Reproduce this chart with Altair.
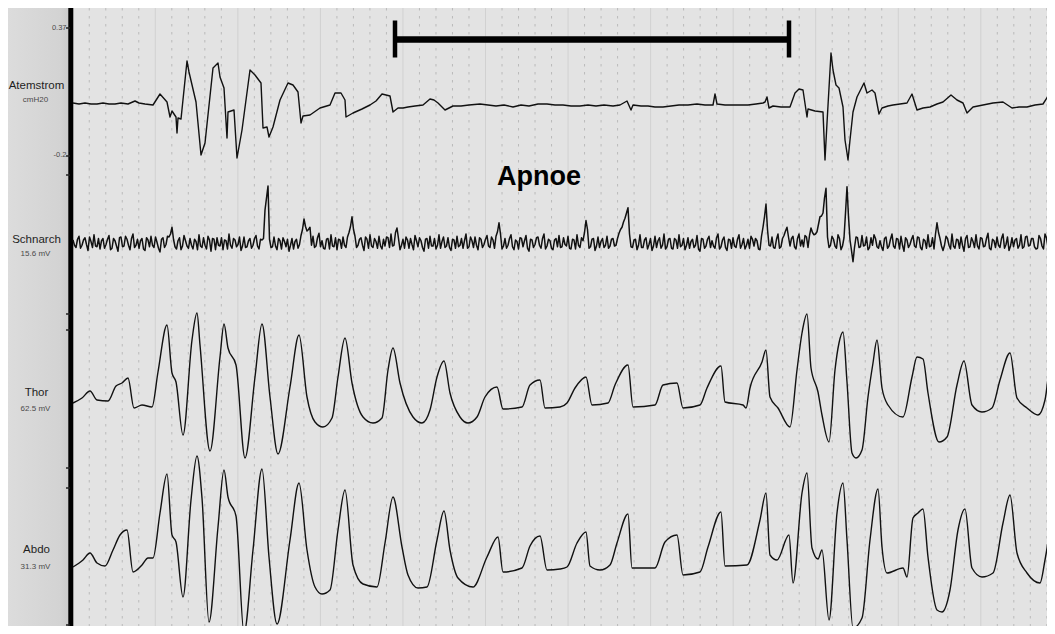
import altair as alt
import pandas as pd

# ---------------- data (time in samples, ~16.5 samples per grid second; amplitude in display units, up = positive)
atem_points = [
    (0, 0), (6, -1), (12, 0), (18, -1), (24, -1), (30, 0), (36, -1), (42, -1), (48, 0), (55, -1),
    (62, 2), (66, 0), (72, -1), (80, -2), (87, 9), (94, 1), (97, -14), (99, -8), (103, -14), (104, -30),
    (105, -15), (108, -16), (114, 42), (116, 31), (123, 1), (128, -52), (132, -40), (140, 35), (145, 40),
    (147, 26), (151, 15), (154, -35), (155, -9), (161, -7), (164, -55), (169, -27), (177, 33), (182, 28),
    (188, 20), (190, -25), (194, -24), (196, -34), (200, -24), (207, 3), (215, 20), (220, 18), (225, 11),
    (228, -20), (230, -13), (237, -12), (247, -5), (257, -2), (262, 10), (268, 10), (272, 3), (273, -14),
    (280, -10), (289, -6), (297, -2), (303, 2), (309, 9), (317, 7), (320, -9), (325, -5), (330, -5),
    (335, -4), (342, -3), (350, -2), (357, 4), (361, 3), (365, 0), (372, -7), (380, -3), (388, -3),
    (396, -2), (407, -1), (415, -2), (423, -3), (431, -2), (440, -4), (448, -2), (456, -3), (465, -1),
    (474, -1), (482, -2), (490, -2), (498, -3), (507, -3), (515, -2), (523, -3), (531, -2), (540, -3),
    (547, -2), (554, 2), (558, -7), (560, -2), (568, -3), (575, -3), (582, -4), (590, -4), (598, -3),
    (606, -2), (615, -2), (624, -1), (632, -2), (640, -2), (642, 9), (644, -1), (652, -2), (660, -2),
    (667, -2), (675, -2), (683, -1), (690, 0), (692, 1), (694, 6), (696, -5), (700, -3), (708, -4),
    (717, -4), (722, 10), (726, 14), (730, 13), (734, -14), (735, -6), (742, -8), (750, -9), (752, -57),
    (754, -20), (758, 50), (760, 33), (763, 18), (766, 15), (770, -4), (772, -37), (774, -50), (775, -57),
    (777, -37), (780, -9), (784, 6), (791, 20), (794, 10), (799, 13), (802, 10), (806, -11), (809, -5),
    (815, -3), (820, -2), (827, -1), (834, 0), (839, 9), (844, -7), (850, -5), (857, -4), (864, -1),
    (870, 1), (878, 8), (884, 3), (890, 0), (894, -10), (900, -4), (910, -2), (920, 0), (930, 1),
    (939, -5), (946, -4), (954, -4), (962, -2), (970, -1), (977, 10), (982, 5),
]

# snore channel: values every 3 samples (t = 3i) ...
schnarch_values = [
    4, -6, 9, -3, 7, -10, 2, 11, -5, -8, 6, -2, 10, -7, 3, -11, 8, -4, 5, -9,
    12, -3, -7, 6, -10, 4, 9, -6, 1, -12, 7, -2, 8, 21, -5, 3, -9, 10, -4, 6,
    -8, 2, 11, -6, -3, 9, -11, 5, 7, -4, -9, 3, 12, -7, 4, -2, -10, 8, -5, 6,
    -3, 10, -8, 4, 44, 76, -6, 8, -9, 3, 7, -5, -11, 6, 2, -7, 10, 32, 16, 21,
    9, -4, 13, 3, -8, 6, 11, -5, -9, 4, 8, -6, 14, 35, 9, -3, 7, -10, 5, 11,
    -6, 2, 9, -8, -4, 7, 12, -3, 20, -9, 5, 8, -7, -2, 10, -5, 3, -11, 6, 9,
    -4, -8, 11, 2, -6, 7, -10, 4, 9, -3, -7, 12, -5, 3, 8, -9, 5, -2, 10, -6,
    4, 9, 27, -8, 6, -3, 11, -9, 2, 7, -5, 10, -11, 4, -2, 8, -7, 12, -4, 3,
    -9, 6, 10, -5, -2, 9, -8, 4, 11, -6, 3, 30, -7, 5, -10, 8, 2, -6, 9, -4,
    6, -3, 13, 21, 33, 47, -5, 4, -9, 11, -6, 7, -2, -10, 9, 3, -7, 12, -5, 6,
    -8, 4, 11, -3, -9, 7, 2, -6, 10, -11, 5, -4, 9, 3, -7, 12, -5, 8, -10, 4,
    7, -6, 11, -2, -8, 5, 9, -4, 3, -9, 21, 52, -3, 8, -7, 12, -5, 10, 21, -4,
    9, -8, 12, 4, 10, -6, 20, 11, 15, 35, 40, 73, -6, 9, -4, 11, -9, 7, 75, 4,
    -25, 8, -6, 10, -3, -9, 7, 11, -5, 3, -10, 8, -4, 12, -7, 5, 9, -11, 4, -2,
    10, -6, 7, -9, 3, 11, -4, -8, 27, 6, -10, 9, -3, 12, -7, 4, 8, -11, 10, -5,
    2, 11, -8, 6, -4, 13, -9, 3, 8, -6, 12, -2, -10, 7, 4, -7, 11, -5, 9, -3,
    6, -8, 10, -4, 12, -6, 3, -2,
]
# ... and the samples half-way between them (t = 3i + 1.5)
schnarch_mid_values = [
    -3, 5, -7, 4, -2, 8, -6, -4, 6, 3, -7, 5, -9, 6, -4, 7, -5, 9, -3, 6,
    -6, 5, 3, -8, 7, -5, -3, 8, -7, 5, -6, 9, 12, 5, -8, 7, -4, 3, -7, -3,
    5, -9, -4, 7, -8, 4, 6, -9, -3, 7, 4, -8, -3, 6, -5, 8, -4, -6, 3, -7,
    6, -4, 5, 6, 60, 5, -5, -4, 6, -8, 2, 5, -3, -8, 5, -2, 18, 22, 18, -3,
    -6, 7, -5, -7, 5, -8, -4, 7, 5, -7, -3, 8, 22, 18, -6, 5, -3, 8, -7, -4,
    6, -7, -4, 5, 8, -6, -4, 14, 6, -3, -7, 4, 6, -9, 3, 7, -6, 5, -7, -4,
    6, -3, -7, 8, -4, -6, 5, -7, -5, 6, 3, -7, 8, -6, -3, 7, -6, 5, -4, 8,
    -7, 15, 12, -4, -7, 6, -5, 4, -8, 6, 3, -7, 5, -6, 7, -3, 6, -8, 5, -7,
    4, -5, -6, 7, -4, -7, 5, -8, -3, 7, 14, 18, -5, 6, -4, -6, 6, -3, -7, 5,
    -4, 6, 18, 28, 40, 12, -6, 5, -3, -6, 4, -8, 6, -4, -6, 7, -3, -8, 5, -7,
    6, -7, -5, 6, -3, -7, 5, -3, -8, 6, -7, 5, -6, -4, 7, -8, 4, -6, 5, -7,
    -4, 5, -7, 6, -3, -7, 5, 6, -8, 9, 35, 18, -4, -6, 5, -7, 6, 16, 8, 6,
    -5, 6, -4, -5, 8, 10, 14, 12, 25, 36, 60, 8, -3, 5, -7, 6, -4, 40, 35, -10,
    -6, 7, -5, -4, 8, -6, -3, 6, -7, -5, 6, -7, 5, -4, 6, -8, -3, 7, -6, 5,
    -4, 8, -6, 5, -7, -5, 7, 12, 14, -4, -3, 6, -8, -4, 5, -7, -3, 6, -6, 7,
    -6, -4, 7, -5, 6, -7, 5, -6, -3, 6, -7, 8, -4, -5, 6, -3, -7, 8, -4, 6,
    -5, -7, 6, -8, 7, 4, -5,
]
schnarch_step = 3
schnarch_gain = 0.75      # display pixels per unit

thor_points = [
    (0, -3), (9, 2), (17, 9), (24, 0), (35, -1), (43, 14), (49, 17), (55, 22), (61, -8), (69, -5),
    (79, -7), (85, 28), (94, 75), (99, 27), (103, 18), (110, -35), (119, 60), (124, 87), (127, 55),
    (137, -51), (147, 43), (151, 76), (155, 52), (163, 35), (172, -58), (182, 23), (189, 76), (197, 3),
    (205, -54), (217, 13), (226, 65), (234, 3), (242, -22), (250, -27), (259, -18), (265, 23), (272, 62),
    (279, 17), (290, -17), (300, -23), (309, -18), (315, 30), (320, 52), (327, 17), (340, -17), (349, -23),
    (357, -10), (364, 23), (371, 39), (377, 7), (387, -17), (395, -23), (404, -17), (412, 3), (424, 13),
    (430, -9), (449, -7), (457, 15), (467, 20), (472, -8), (487, -7), (494, -3), (502, 12), (513, 23),
    (519, -5), (535, -3), (542, 15), (555, 35), (560, -7), (582, -5), (590, 15), (604, 17), (610, -8),
    (627, -5), (634, 12), (648, 34), (652, -2), (670, -5), (673, -8), (677, 12), (689, 38), (693, 50),
    (697, 3), (705, -8), (717, -27), (724, 30), (729, 67), (734, 86), (738, 32), (745, 8), (749, -15),
    (756, -42), (762, 30), (766, 57), (770, 68), (774, 18), (779, -53), (783, -58), (789, -50), (795, 3),
    (800, 37), (804, 60), (809, 12), (815, -5), (830, -17), (839, 23), (844, 43), (850, 41), (855, 7),
    (866, -42), (874, -37), (884, 15), (891, 39), (899, -5), (909, -12), (919, -8), (927, 20), (937, 47),
    (944, 2), (954, -8), (965, -15), (972, 0), (977, 37), (982, 55),
]

abdo_points = [
    (0, -7), (10, 0), (17, 7), (24, -3), (32, -6), (40, 10), (47, 25), (54, 30), (60, -12), (69, -5),
    (75, 2), (80, 2), (87, 47), (94, 86), (99, 25), (103, 18), (110, -37), (118, 60), (124, 104),
    (129, 62), (136, -62), (145, 33), (151, 90), (155, 63), (163, 44), (171, -73), (180, 10), (189, 91),
    (196, 3), (204, -64), (217, 20), (226, 77), (234, 10), (242, -27), (249, -34), (257, -30), (265, 30),
    (272, 70), (280, -5), (290, -24), (304, -27), (312, 17), (320, 63), (329, 13), (335, -15), (345, -28),
    (354, -27), (364, 20), (371, 49), (377, 10), (385, -18), (400, -27), (414, 3), (425, 23), (430, -12),
    (449, -8), (457, 14), (467, 24), (474, -10), (487, -9), (494, -7), (504, 17), (513, 28), (517, -6),
    (527, -10), (537, -5), (544, 17), (555, 46), (559, -8), (582, -8), (592, 18), (604, 25), (610, -15),
    (627, -12), (635, 13), (648, 48), (652, -6), (674, -5), (687, 40), (693, 67), (697, 5), (704, 0),
    (716, 25), (720, -23), (729, 67), (734, 87), (739, 12), (745, 1), (749, 10), (756, -60), (764, 47),
    (770, 77), (774, 20), (780, -68), (789, -58), (797, 20), (805, 71), (809, 13), (814, -13), (830, -8),
    (834, -17), (840, 42), (845, 47), (850, 51), (855, 3), (864, -50), (869, -52), (877, -30), (885, 30),
    (892, 51), (899, -8), (909, -17), (920, -13), (930, 37), (937, 65), (944, 7), (954, -13), (967, -23),
    (972, 0), (982, 68),
]

channel_names = ["Atemstrom", "Schnarch", "Thor", "Abdo"]
channel_units = ["cmH20", "15.6 mV", "62.5 mV", "31.3 mV"]
atem_range_labels = ["0.37", "-0.2"]
apnoe_start = 322
apnoe_end = 716
apnoe_label = "Apnoe"

# ---------------- layout / style
W, H = 1039, 618
XS = alt.Scale(domain=[-65, 974], nice=False, zero=False)
baselines = [95, 235, 392, 552]          # chart-pixel y of each channel's zero line
name_y = [78, 232, 385, 542]
unit_y = [92, 246, 401, 559]
range_label_y = [20, 147]
tick_y = [20, 148, 167, 306, 322, 460, 480, 617]
FONT = "Liberation Sans, Arial, sans-serif"
one = pd.DataFrame({"k": [0]})

grid_step = 16.51
grid_k = list(range(1, 60))
grid_df = pd.DataFrame({"gx": [-0.25 + grid_step * k for k in grid_k],
                        "major": [k % 5 == 0 for k in grid_k]})

panel = alt.Chart(one).mark_rect(
    color=alt.Gradient(gradient="linear",
                       stops=[alt.GradientStop(color="#dcdcdc", offset=0),
                              alt.GradientStop(color="#d3d3d3", offset=0.85),
                              alt.GradientStop(color="#cacaca", offset=1)],
                       x1=0, x2=1, y1=0, y2=0)
).encode(x=alt.value(0), x2=alt.value(61), y=alt.value(0), y2=alt.value(H))

grid_minor = alt.Chart(grid_df).transform_filter("!datum.major").mark_rule(
    color="#bababa", strokeWidth=1, strokeDash=[2.5, 5.5]
).encode(x=alt.X("gx:Q", scale=XS, axis=None), y=alt.value(0), y2=alt.value(H))

grid_major = alt.Chart(grid_df).transform_filter("datum.major").mark_rule(
    color="#d1d1d1", strokeWidth=1
).encode(x=alt.X("gx:Q", scale=XS, axis=None), y=alt.value(0), y2=alt.value(H))

axis_line = alt.Chart(one).mark_rule(color="#000000", strokeWidth=5).encode(
    x=alt.value(62.8), y=alt.value(0), y2=alt.value(H))

ticks = alt.Chart(pd.DataFrame({"ty": tick_y})).mark_rule(color="#222222", strokeWidth=1.5).encode(
    x=alt.value(58), x2=alt.value(62), y=alt.Y("ty:Q", scale=None))

lab_df = pd.DataFrame({"name": channel_names, "unit": channel_units, "ny": name_y, "uy": unit_y})
names = alt.Chart(lab_df).mark_text(font=FONT, fontSize=11.5, color="#1e1e1e",
                                    align="center", baseline="middle").encode(
    x=alt.value(28.5), y=alt.Y("ny:Q", scale=None), text="name:N")
units = alt.Chart(lab_df).mark_text(font=FONT, fontSize=8, color="#4a4a4a",
                                    align="center", baseline="middle").encode(
    x=alt.value(27.5), y=alt.Y("uy:Q", scale=None), text="unit:N")
range_labels = alt.Chart(pd.DataFrame({"lab": atem_range_labels, "ly": range_label_y})).mark_text(
    font=FONT, fontSize=7.5, color="#4a4a4a", align="right", baseline="middle").encode(
    x=alt.value(58.5), y=alt.Y("ly:Q", scale=None), text="lab:N")

br_df = pd.DataFrame({"a": [apnoe_start], "b": [apnoe_end]})
bar_h = alt.Chart(br_df).mark_rule(color="#000000", strokeWidth=6.5).encode(
    x=alt.X("a:Q", scale=XS, axis=None), x2="b:Q", y=alt.value(31.5))
caps = alt.Chart(pd.DataFrame({"c": [apnoe_start, apnoe_end]})).mark_rule(
    color="#000000", strokeWidth=4.5).encode(
    x=alt.X("c:Q", scale=XS, axis=None), y=alt.value(12.5), y2=alt.value(49.5))
apnoe_text = alt.Chart(pd.DataFrame({"t": [apnoe_label]})).mark_text(
    font=FONT, fontSize=27, fontWeight="bold", color="#000000", align="center",
    baseline="alphabetic").encode(x=alt.value(531), y=alt.value(177), text="t:N")


def trace(points, base, width, interp="linear", gain=1.0):
    df = pd.DataFrame(points, columns=["t", "v"])
    return alt.Chart(df).mark_line(color="#111111", strokeWidth=width, strokeJoin="round",
                                   interpolate=interp, clip=True).encode(
        x=alt.X("t:Q", scale=XS, axis=None),
        y=alt.Y("v:Q", scale=alt.Scale(domain=[(base - H) / gain, base / gain], nice=False, zero=False),
                axis=None),
    )


schnarch_points = sorted(
    [(i * schnarch_step, v) for i, v in enumerate(schnarch_values)]
    + [(i * schnarch_step + schnarch_step / 2, v) for i, v in enumerate(schnarch_mid_values)]
)

chart = alt.layer(
    panel, grid_minor, grid_major, axis_line, ticks, names, units, range_labels,
    bar_h, caps, apnoe_text,
    trace(atem_points, baselines[0], 1.4),
    trace(schnarch_points, baselines[1], 1.5, gain=schnarch_gain),
    trace(thor_points, baselines[2], 1.4, "monotone"),
    trace(abdo_points, baselines[3], 1.4, "monotone"),
).resolve_scale(y="independent").properties(
    width=W, height=H, background="#e3e3e3", padding=0,
    autosize=alt.AutoSizeParams(type="none"),
).configure_view(strokeWidth=0)

chart.save("out.html", embed_options={"renderer": "svg", "actions": False})
